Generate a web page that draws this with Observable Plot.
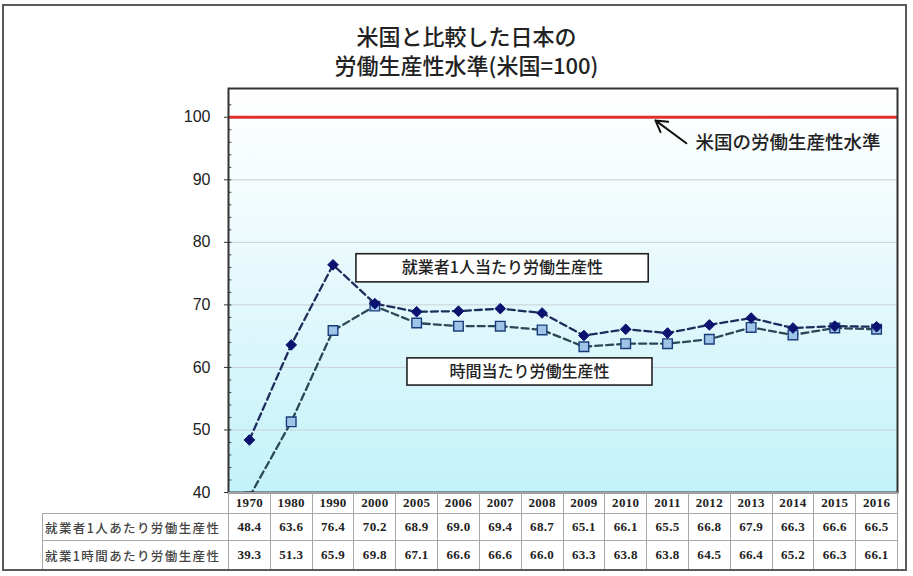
<!DOCTYPE html>
<html lang="ja">
<head>
<meta charset="utf-8">
<script src="https://cdn.jsdelivr.net/npm/d3@7"></script>
<script src="https://cdn.jsdelivr.net/npm/@observablehq/plot@0.6"></script>
<style>
  html, body { margin: 0; padding: 0; background: #fff; }
  #wrap { position: relative; width: 913px; height: 576px; overflow: hidden; background: #fff; }
  #wrap svg { position: absolute; left: 0; top: 0; }
  #title {
    position: absolute; left: 10px; top: 21px; width: 913px;
    text-align: center; font-family: "Noto Sans CJK JP", sans-serif; font-weight: 500;
    font-size: 22px; line-height: 29px; color: #222;
  }
  #table { position: absolute; top: 492px; left: 42px; }
  #table table { border-collapse: collapse; table-layout: fixed; }
  #table td {
    border: 1px solid #a8a8a8; padding: 0; text-align: center;
    font-family: "Liberation Serif", serif; font-weight: bold;
    font-size: 13px; letter-spacing: 0.3px; color: #222;
  }
  #table td.lab {
    font-family: "Noto Sans CJK JP", sans-serif; font-weight: 500;
    font-size: 12.5px; letter-spacing: 1.4px; color: #444; text-align: left; padding-left: 2px;
  }
  #table td.blank { border: none; }
  #border {
    position: absolute; left: 2px; top: 4px; width: 901px; height: 563px;
    border: 2px solid #5a5a5a; pointer-events: none;
  }
</style>
</head>
<body>
<div id="wrap">
  <div id="title">米国と比較した日本の<br>労働生産性水準(米国=100)</div>
  <div id="table"></div>
  <div id="border"></div>
</div>
<script>
// Japan's labour productivity relative to the US (US = 100)
const years = ["1970","1980","1990","2000","2005","2006","2007","2008","2009","2010","2011","2012","2013","2014","2015","2016"];
const perWorker = [48.4, 63.6, 76.4, 70.2, 68.9, 69.0, 69.4, 68.7, 65.1, 66.1, 65.5, 66.8, 67.9, 66.3, 66.6, 66.5];
const perHour   = [39.3, 51.3, 65.9, 69.8, 67.1, 66.6, 66.6, 66.0, 63.3, 63.8, 63.8, 64.5, 66.4, 65.2, 66.3, 66.1];
const rowLabels = ["就業者1人あたり労働生産性", "就業1時間あたり労働生産性"];
const seriesLabels = ["就業者1人当たり労働生産性", "時間当たり労働生産性"];
const usLabel = "米国の労働生産性水準";
const usLevel = 100;
const yTicks = [40, 50, 60, 70, 80, 90, 100];
const gridTicks = [50, 60, 70, 80, 90];
const minorTicks = d3.range(42, 104, 2);

const rows = years.map((year, i) => ({i, year, worker: perWorker[i], hour: perHour[i]}));

const font = "'Noto Sans CJK JP', sans-serif";

const plot = Plot.plot({
  width: 913,
  height: 576,
  marginTop: 88,
  marginBottom: 84,
  marginLeft: 228,
  marginRight: 16,
  style: {fontFamily: "'Liberation Sans', Arial, sans-serif", background: "transparent"},
  x: {domain: [-0.5, years.length - 0.5], axis: null},
  y: {domain: [40, 104.6], axis: null},
  marks: [
    Plot.frame({fill: "url(#bgGrad)"}),
    Plot.gridY(gridTicks, {stroke: "#c9d3d6", strokeOpacity: 1, strokeWidth: 1}),
    Plot.axisY(yTicks, {anchor: "left", tickSize: 4, tickPadding: 14, fontSize: 16, fill: "#222", stroke: "#333", label: null}),
    Plot.ruleY(minorTicks, {y: d => d, x1: -0.5, x2: -0.42, stroke: "#444", strokeWidth: 1}),
    Plot.ruleY([usLevel], {stroke: "#e2302b", strokeWidth: 2.8}),
    // dashed series lines
    Plot.line(rows, {x: "i", y: "worker", stroke: "#1e2d5c", strokeWidth: 2.3, strokeDasharray: "7,4", clip: true}),
    Plot.line(rows, {x: "i", y: "hour", stroke: "#2b4858", strokeWidth: 2.3, strokeDasharray: "7,4", clip: true}),
    Plot.dot(rows, {x: "i", y: "hour", symbol: "square", r: 5.4, fill: "#9ec4e8", stroke: "#1b3c7a", strokeWidth: 1.4, clip: true}),
    Plot.dot(rows, {x: "i", y: "worker", symbol: "diamond2", r: 4.8, fill: "#0b1270", stroke: "#0b1270", strokeWidth: 1, clip: true}),
    // series callout boxes
    Plot.rect([0], {x1: 2.56, x2: 9.55, y1: 73.6, y2: 78.1, fill: "#fff", stroke: "#222", strokeWidth: 1.6}),
    Plot.text([seriesLabels[0]], {x: 6.05, y: 75.85, text: d => d, fontSize: 16, fontWeight: 500, fontFamily: font, fill: "#222"}),
    Plot.rect([0], {x1: 3.78, x2: 9.64, y1: 57.1, y2: 61.45, fill: "#fff", stroke: "#222", strokeWidth: 1.6}),
    Plot.text([seriesLabels[1]], {x: 6.7, y: 59.28, text: d => d, fontSize: 16, fontWeight: 500, fontFamily: font, fill: "#222"}),
    // US level annotation
    Plot.arrow([0], {x1: 10.45, y1: 95.84, x2: 9.71, y2: 99.5, stroke: "#111", strokeWidth: 2, headLength: 10}),
    Plot.text([usLabel], {x: 10.67, y: 95.84, text: d => d, textAnchor: "start", fontSize: 18.5, fontWeight: 500, fontFamily: font, fill: "#222"}),
    Plot.frame({stroke: "#333", strokeWidth: 2})
  ]
});

// vertical background gradient for the plotting area
const defs = d3.select(plot).insert("defs", ":first-child");
const grad = defs.append("linearGradient").attr("id", "bgGrad").attr("x1", 0).attr("y1", 0).attr("x2", 0).attr("y2", 1);
grad.append("stop").attr("offset", "0%").attr("stop-color", "#ffffff");
grad.append("stop").attr("offset", "30%").attr("stop-color", "#f1fbfd");
grad.append("stop").attr("offset", "100%").attr("stop-color", "#c3f2fa");

const wrap = document.getElementById("wrap");
wrap.insertBefore(plot, wrap.firstChild);

// data table under the chart, columns aligned with the x scale
const xs = plot.scale("x");
const colW = years.map((_, i) => xs.apply(i + 0.5) - xs.apply(i - 0.5));
const labelW = xs.apply(-0.5) - 42;
const table = d3.select("#table").append("table");
const cg = table.append("colgroup");
cg.append("col").style("width", labelW + "px");
colW.forEach(w => cg.append("col").style("width", w + "px"));
const head = table.append("tr").style("height", "21px");
head.append("td").attr("class", "blank");
years.forEach(y => head.append("td").text(y));
[perWorker, perHour].forEach((vals, r) => {
  const tr = table.append("tr").style("height", r === 0 ? "27px" : "29px");
  tr.append("td").attr("class", "lab").text(rowLabels[r]);
  vals.forEach(v => tr.append("td").text(v.toFixed(1)));
});
</script>
</body>
</html>
